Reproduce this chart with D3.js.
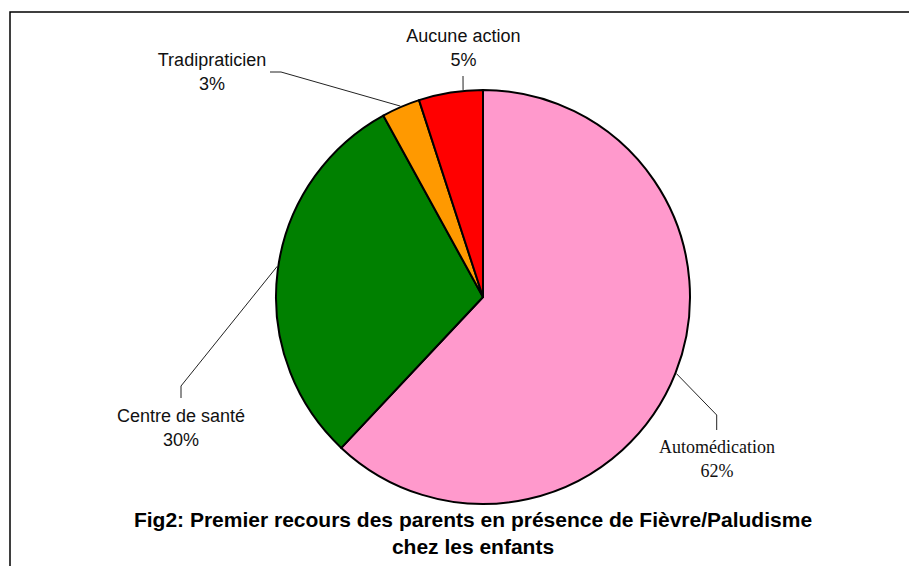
<!DOCTYPE html>
<html>
<head>
<meta charset="utf-8">
<script src="https://cdn.jsdelivr.net/npm/d3@7"></script>
<style>
  body { margin: 0; background: #fff; }
</style>
</head>
<body>
<div id="chart"></div>
<script>
// donnees du graphique
const categories = ["Automédication", "Centre de santé", "Tradipraticien", "Aucune action"];
const values = [62, 30, 3, 5];
const colors = ["#FF99CC", "#008000", "#FF9900", "#FF0000"];
const titleLines = ["Fig2: Premier recours des parents en présence de Fièvre/Paludisme", "chez les enfants"];

const width = 909, height = 566;
const cx = 483, cy = 297, radius = 207;

// placement des etiquettes (angle du depart du trait, coude, fin, texte)
const labelLayout = [
  { angle: 111.6, elbow: [716.7, 415], end: [716.7, 430], text: [717, 453], font: "'Liberation Serif', 'Times New Roman', serif" },
  { angle: 278.5, elbow: [181, 386], end: [181, 398], text: [181, 422], font: "'Liberation Sans', Arial, sans-serif" },
  { angle: 336.6, elbow: [281, 72], end: [270, 72], text: [212, 66], font: "'Liberation Sans', Arial, sans-serif" },
  { angle: 354.5, elbow: null, end: [463, 76], text: [463.4, 42], font: "'Liberation Sans', Arial, sans-serif" }
];

let svg = d3.select("#chart").append("svg")
  .attr("width", width)
  .attr("height", height);

svg.append("rect").attr("width", width).attr("height", height).attr("fill", "#fff");

// cadre (haut + gauche)
svg.append("path")
  .attr("d", `M10,${height} L10,12 L${width},12`)
  .attr("fill", "none")
  .attr("stroke", "#000")
  .attr("stroke-width", 1.5);

let pie = d3.pie().sort(null).value(d => d);
let arc = d3.arc().innerRadius(0).outerRadius(radius);
let arcs = pie(values);

let g = svg.append("g").attr("transform", `translate(${cx},${cy})`);

g.selectAll("path.slice")
  .data(arcs)
  .enter()
  .append("path")
  .attr("class", "slice")
  .attr("d", arc)
  .attr("fill", (d, i) => colors[i])
  .attr("stroke", "#000")
  .attr("stroke-width", 2)
  .attr("stroke-linejoin", "round");

// traits de rappel + etiquettes
labelLayout.forEach((lay, i) => {
  let a = lay.angle * Math.PI / 180;
  let start = [cx + (radius + 1) * Math.sin(a), cy - (radius + 1) * Math.cos(a)];
  let pts = [start];
  if (lay.elbow) pts.push(lay.elbow);
  pts.push(lay.end);

  svg.append("path")
    .attr("d", d3.line()(pts))
    .attr("fill", "none")
    .attr("stroke", "#222")
    .attr("stroke-width", 1);

  let pct = Math.round(values[i] / d3.sum(values) * 100) + "%";
  let t = svg.append("text")
    .attr("x", lay.text[0])
    .attr("y", lay.text[1])
    .attr("text-anchor", "middle")
    .style("font-family", lay.font)
    .style("font-size", "18px")
    .style("fill", "#111");
  t.append("tspan").attr("x", lay.text[0]).text(categories[i]);
  t.append("tspan").attr("x", lay.text[0]).attr("dy", 24).text(pct);
});

// titre
svg.append("text")
  .attr("x", 473)
  .attr("y", 527)
  .attr("text-anchor", "middle")
  .style("font-family", "'Liberation Sans', Arial, sans-serif")
  .style("font-weight", "bold")
  .style("font-size", "21px")
  .selectAll("tspan")
  .data(titleLines)
  .enter()
  .append("tspan")
  .attr("x", 473)
  .attr("dy", (d, i) => i === 0 ? 0 : 27)
  .text(d => d);
</script>
</body>
</html>
